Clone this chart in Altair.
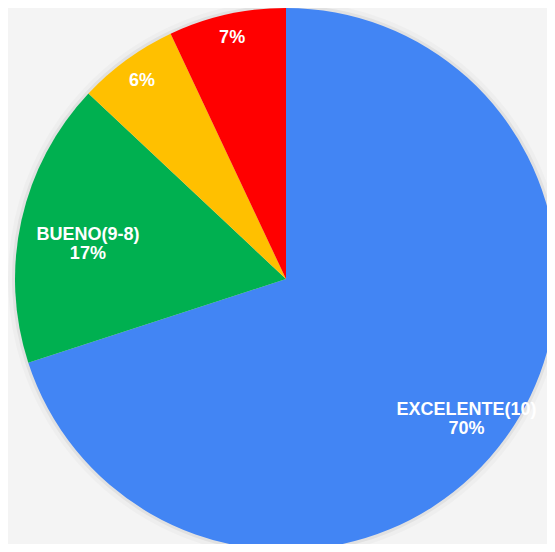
import altair as alt
import pandas as pd

categories = ["EXCELENTE(10)", "BUENO(9-8)", "REGULAR", "MALO"]
values = [70, 17, 6, 7]
pct_labels = ["70%", "17%", "6%", "7%"]
show_name = [True, True, False, False]
colors = ["#4285F4", "#00B050", "#FFC000", "#FF0000"]

df = pd.DataFrame({
    "cat": categories,
    "val": values,
    "idx": list(range(len(categories))),
    "label": [(c + "\n" + p) if s else p for c, p, s in zip(categories, pct_labels, show_name)],
})

cx, cy = 278, 271
R = 271

base = alt.Chart(df).encode(
    theta=alt.Theta("val:Q", stack=True),
    order=alt.Order("idx:Q"),
    x=alt.value(cx),
    y=alt.value(cy),
)

shadow2 = base.mark_arc(outerRadius=R + 7, color="#000000", opacity=0.025).encode(detail="cat:N")
shadow1 = base.mark_arc(outerRadius=R + 3, color="#000000", opacity=0.05).encode(detail="cat:N")

pie = base.mark_arc(outerRadius=R).encode(
    color=alt.Color("cat:N", scale=alt.Scale(domain=categories, range=colors), legend=None),
)

def label_layer(cats, r):
    return base.transform_calculate(
        shown="indexof(" + str(cats) + ", datum.cat) >= 0 ? datum.label : ''"
    ).mark_text(
        radius=r, color="white", font="Liberation Sans", fontWeight="bold",
        fontSize=18, lineBreak="\n", lineHeight=19, align="center", baseline="middle",
    ).encode(detail="cat:N", text="shown:N")

chart = alt.layer(
    shadow2, shadow1, pie,
    label_layer(["EXCELENTE(10)"], 223),
    label_layer(["BUENO(9-8)"], 203),
    label_layer(["REGULAR"], 245),
    label_layer(["MALO"], 247),
).properties(
    width=539, height=536, padding=0,
    autosize=alt.AutoSizeParams(type="none"),
    background="#f4f4f4",
).configure_view(stroke=None)

chart.save("out.html", embed_options={"renderer": "svg", "actions": False})
